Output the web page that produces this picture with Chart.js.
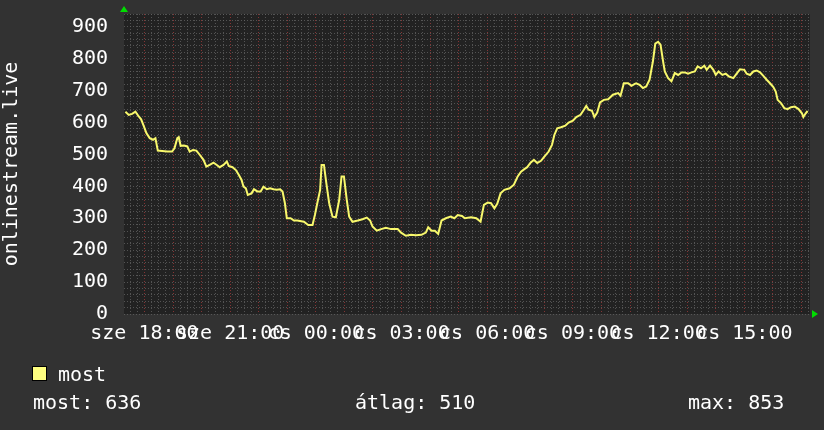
<!DOCTYPE html>
<html>
<head>
<meta charset="utf-8">
<script src="https://cdn.jsdelivr.net/npm/chart.js@4/dist/chart.umd.min.js"></script>
<style>
  html, body { margin: 0; padding: 0; background: #323232; }
  #wrap { position: relative; width: 824px; height: 430px; }
  canvas { position: absolute; left: 0; top: 0; }
  .txt { position: absolute; font: 20px "DejaVu Sans Mono", monospace; color: #fff; line-height: 20px; white-space: pre; }
  #swatch { position: absolute; left: 32px; top: 366px; width: 15px; height: 15px; background: #ffff80; border: 1px solid #000; box-sizing: border-box; }
</style>
</head>
<body>
<div id="wrap">
  <canvas id="chart" width="824" height="430"></canvas>
  <div id="swatch"></div>
  <div class="txt" id="legName" style="left:58px;top:364px"></div>
  <div class="txt" id="statNow" style="left:33px;top:392px"></div>
  <div class="txt" id="statAvg" style="left:355px;top:392px"></div>
  <div class="txt" id="statMax" style="left:688px;top:392px"></div>
</div>
<script>
const seriesName = "most";
const axisTitle = "onlinestream.live";

// minutes since 18:00 (szerda)
const minutes = [
  -40, -33, -26, -19, -12, -7, -1, 4, 11, 18, 23, 28, 37, 48, 58, 63, 69, 72, 76, 83,
  90, 95, 102, 109, 116, 124, 130, 137, 145, 152, 158, 166, 173, 177, 185, 192, 198, 204, 208, 213,
  217, 225, 230, 237, 244, 250, 257, 264, 271, 278, 285, 290, 295, 299, 307, 314, 321, 335, 344, 353,
  358, 363, 369, 372, 377, 382, 388, 395, 402, 409, 414, 419, 425, 430, 437, 448, 458, 467, 474, 479,
  488, 497, 507, 518, 532, 539, 549, 560, 570, 582, 591, 596, 603, 610, 617, 624, 633, 643, 651, 658,
  667, 673, 686, 697, 706, 713, 721, 728, 735, 741, 748, 756, 767, 776, 784, 791, 798, 804, 811, 818,
  825, 833, 840, 849, 856, 861, 867, 875, 884, 891, 900, 907, 916, 923, 928, 933, 940, 945, 951, 957,
  965, 974, 984, 995, 1000, 1007, 1016, 1023, 1030, 1033, 1040, 1047, 1054, 1061, 1068, 1073, 1079, 1084, 1090, 1093,
  1100, 1107, 1114, 1121, 1128, 1135, 1142, 1149, 1156, 1162, 1169, 1176, 1181, 1188, 1195, 1200, 1206, 1214, 1221, 1228,
  1237, 1244, 1251, 1260, 1265, 1272, 1279, 1286, 1293, 1300, 1307, 1314, 1321, 1326, 1330, 1337, 1344, 1351, 1358, 1366,
  1374, 1381, 1384, 1389, 1393
];
const viewers = [
  634, 624, 627, 634, 619, 610, 587, 567, 551, 546, 551, 512, 511, 509, 509, 519, 551, 554, 527, 528,
  525, 509, 514, 512, 499, 483, 462, 467, 474, 467, 460, 467, 478, 464, 460, 451, 436, 420, 399, 394,
  373, 378, 391, 384, 384, 399, 391, 394, 391, 389, 391, 384, 347, 300, 300, 293, 293, 289, 279, 279,
  310, 347, 389, 467, 467, 410, 347, 305, 303, 357, 431, 431, 357, 305, 289, 293, 297, 302, 293, 274,
  261, 266, 270, 266, 266, 255, 245, 248, 247, 248, 255, 272, 261, 261, 251, 293, 300, 305, 300, 310,
  307, 300, 303, 300, 289, 342, 349, 347, 331, 345, 378, 389, 394, 405, 431, 446, 454, 460, 474, 483,
  473, 480, 493, 509, 530, 561, 582, 585, 590, 600, 606, 617, 624, 640, 652, 640, 637, 617, 631, 663,
  671, 673, 687, 692, 684, 723, 723, 715, 721, 723, 718, 708, 713, 734, 791, 847, 853, 844, 786, 760,
  739, 729, 755, 749, 757, 757, 753, 757, 760, 776, 770, 778, 765, 778, 765, 749, 760, 749, 753, 744,
  739, 753, 767, 765, 753, 749, 760, 763, 757, 746, 734, 723, 711, 697, 671, 661, 645, 642, 648, 650,
  642, 629, 617, 629, 636
];

const xLabelMinutes = [0, 180, 360, 540, 720, 900, 1080, 1260];
const xLabels = ["sze 18:00", "sze 21:00", "cs 00:00", "cs 03:00", "cs 06:00", "cs 09:00", "cs 12:00", "cs 15:00"];

const statNow = 636;
const statAvg = 510;
const statMax = 853;

document.getElementById("legName").textContent = seriesName;
document.getElementById("statNow").textContent = "most: " + statNow;
document.getElementById("statAvg").textContent = "átlag: " + statAvg;
document.getElementById("statMax").textContent = "max: " + statMax;

const monoFont = { family: "'DejaVu Sans Mono', monospace", size: 20 };

// plot background + green axis arrows
const rrdLook = {
  id: "rrdLook",
  beforeDraw(chart) {
    const { ctx, chartArea: a } = chart;
    ctx.save();
    ctx.fillStyle = "#222222";
    ctx.fillRect(a.left, a.top, a.right - a.left, a.bottom - a.top);
    ctx.restore();
  },
  afterDraw(chart) {
    const { ctx, chartArea: a } = chart;
    ctx.save();
    ctx.fillStyle = "#00dd00";
    ctx.beginPath();
    ctx.moveTo(a.left - 4, a.top - 2);
    ctx.lineTo(a.left + 4, a.top - 2);
    ctx.lineTo(a.left, a.top - 8);
    ctx.closePath();
    ctx.fill();
    ctx.beginPath();
    ctx.moveTo(a.right + 2, a.bottom - 4);
    ctx.lineTo(a.right + 2, a.bottom + 4);
    ctx.lineTo(a.right + 8, a.bottom);
    ctx.closePath();
    ctx.fill();
    ctx.restore();
  }
};

new Chart(document.getElementById("chart"), {
  type: "line",
  data: {
    datasets: [{
      label: seriesName,
      data: minutes.map((m, i) => ({ x: m, y: viewers[i] })),
      borderColor: "#f8f86c",
      borderWidth: 2,
      pointRadius: 0,
      tension: 0,
      fill: false
    }]
  },
  options: {
    responsive: false,
    animation: false,
    devicePixelRatio: 1,
    layout: { padding: { top: 14, right: 14, bottom: 76, left: 0 } },
    plugins: { legend: { display: false }, tooltip: { enabled: false } },
    scales: {
      x: {
        type: "linear",
        min: -43,
        max: 1398,
        afterBuildTicks(scale) {
          const t = [];
          for (let m = Math.ceil(scale.min / 15) * 15; m <= scale.max; m += 15) t.push({ value: m });
          scale.ticks = t;
        },
        afterFit(scale) { scale.height = 40; scale.paddingLeft = 0; scale.paddingRight = 0; },
        grid: {
          drawTicks: false,
          color: ctx => (ctx.tick && ctx.tick.value % 60 === 0) ? "rgba(150,55,55,0.85)" : "rgba(100,100,100,0.75)"
        },
        border: { display: false, dash: [1, 2] },
        ticks: {
          autoSkip: false,
          maxRotation: 0,
          minRotation: 0,
          padding: 8,
          color: "#ffffff",
          font: monoFont,
          callback: v => {
            const i = xLabelMinutes.indexOf(v);
            return i >= 0 ? xLabels[i] : "";
          }
        }
      },
      y: {
        min: 0,
        max: 940,
        afterBuildTicks(scale) {
          const t = [];
          for (let v = 0; v <= 940; v += 20) t.push({ value: v });
          scale.ticks = t;
        },
        afterFit(scale) { scale.width = 124; scale.paddingTop = 0; scale.paddingBottom = 0; },
        grid: { drawTicks: false, color: "rgba(100,100,100,0.75)" },
        border: { display: false, dash: [1, 2] },
        title: {
          display: true,
          text: axisTitle,
          color: "#ffffff",
          font: monoFont,
          padding: 0
        },
        ticks: {
          autoSkip: false,
          padding: 16,
          color: "#ffffff",
          font: monoFont,
          callback: v => (v % 100 === 0 ? String(v) : "")
        }
      }
    }
  },
  plugins: [rrdLook]
});
</script>
</body>
</html>
